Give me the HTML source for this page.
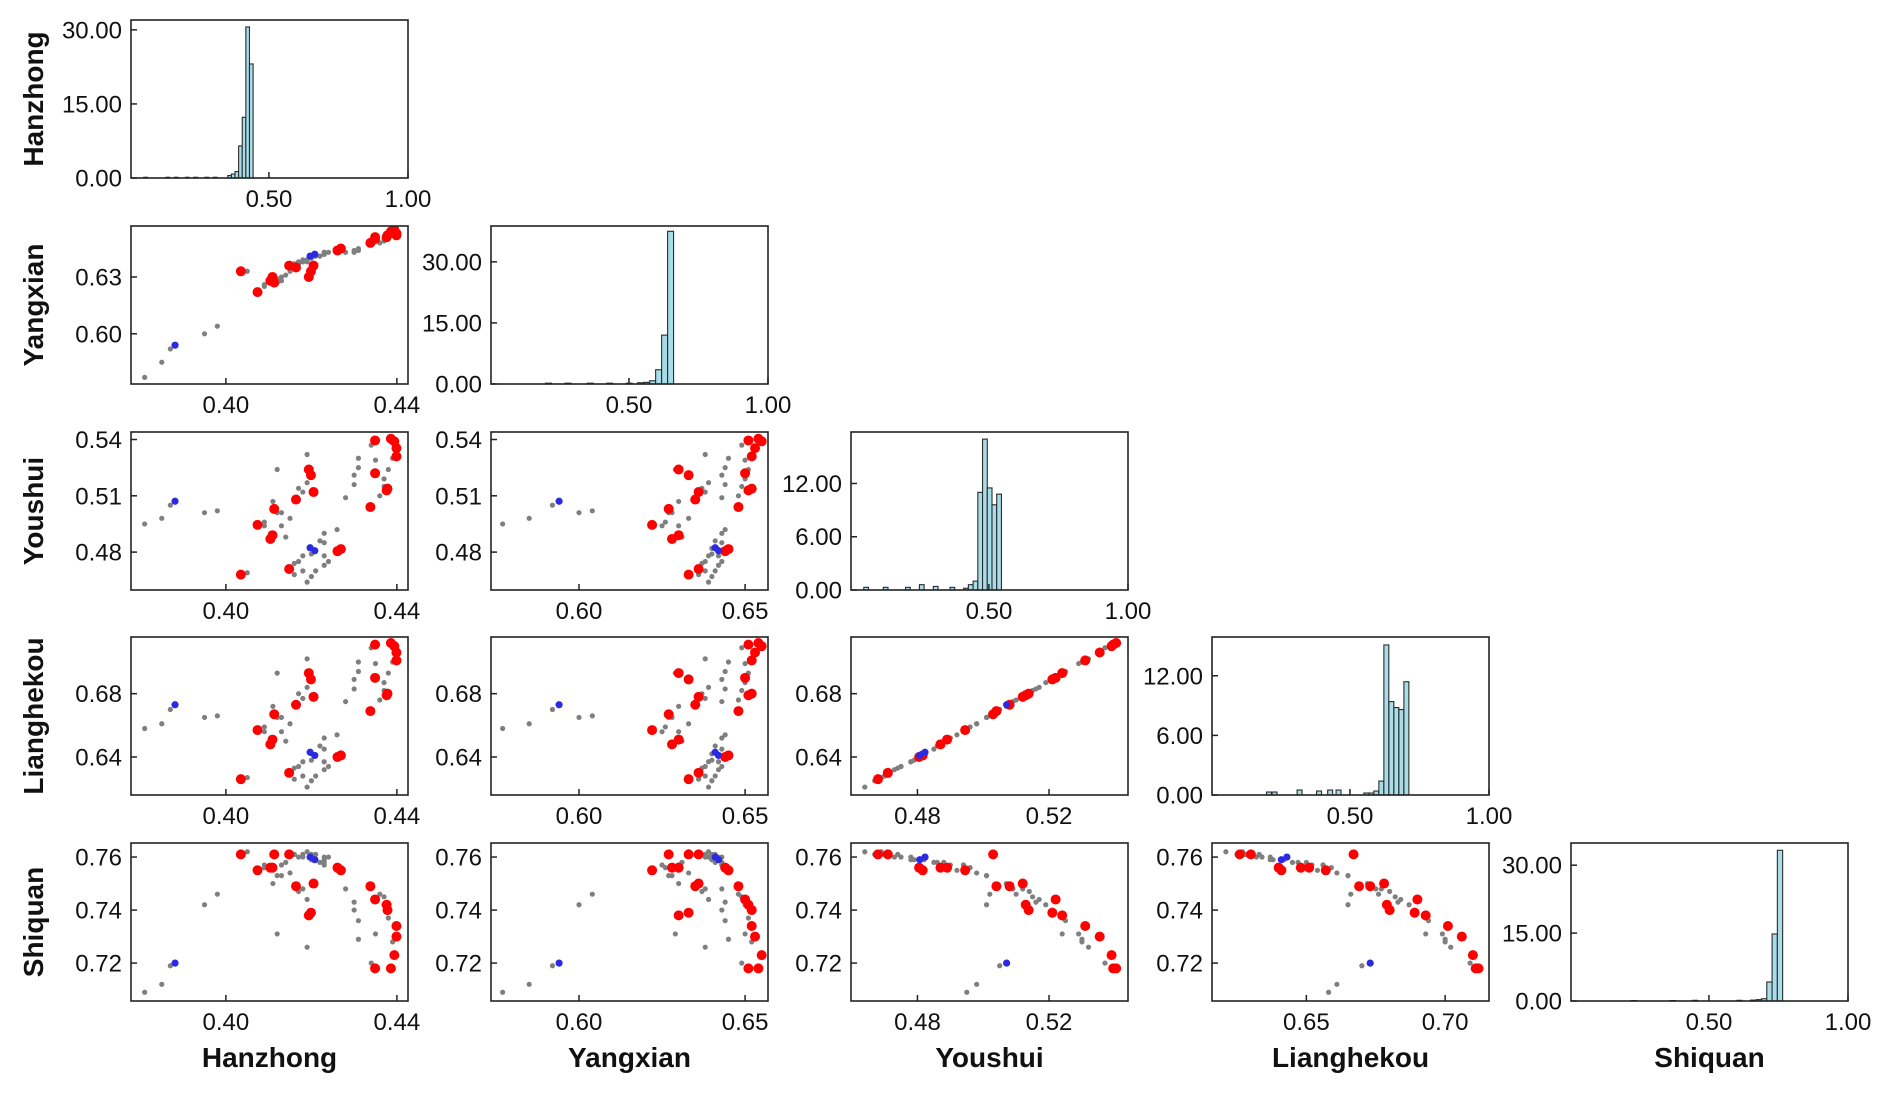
<!DOCTYPE html>
<html><head><meta charset="utf-8"><style>
html,body{margin:0;padding:0;background:#fff;}
svg{display:block;font-family:"Liberation Sans",Arial,sans-serif;}
</style></head><body>
<svg id="chart" width="1892" height="1096" viewBox="0 0 1892 1096" xmlns="http://www.w3.org/2000/svg"></svg>
<script>
// Variables
const varNames = ["Hanzhong","Yangxian","Youshui","Lianghekou","Shiquan"];
// Scatter data (shared across panels): one entry per sample
const hanzhong = [0.381,0.385,0.395,0.398,0.387,0.412,0.419,0.419,0.417,0.418,0.411,0.412,0.413,0.415,0.409,0.409,0.413,0.414,0.428,0.430,0.431,0.431,0.430,0.434,0.435,0.436,0.437,0.438,0.439,0.437,0.423,0.422,0.420,0.418,0.417,0.416,0.416,0.419,0.420,0.421,0.423,0.424,0.423,0.418,0.405,0.423,0.426,0.420,
0.4035,0.4074,0.4104,0.4109,0.4113,0.4164,0.4194,0.4199,0.4205,0.4148,0.4261,0.4269,0.4338,0.4349,0.4349,0.4378,0.4376,0.4386,0.4394,0.4399,0.4399,
0.3881,0.4197,0.4208];
const yangxian = [0.577,0.585,0.600,0.604,0.592,0.629,0.638,0.639,0.637,0.638,0.630,0.627,0.628,0.633,0.626,0.625,0.630,0.631,0.643,0.644,0.645,0.644,0.643,0.649,0.650,0.648,0.650,0.651,0.652,0.649,0.643,0.641,0.640,0.639,0.638,0.637,0.636,0.639,0.640,0.641,0.642,0.643,0.642,0.638,0.633,0.643,0.644,0.640,
0.633,0.622,0.628,0.630,0.627,0.635,0.630,0.633,0.636,0.636,0.644,0.645,0.648,0.651,0.650,0.652,0.651,0.654,0.655,0.653,0.652,
0.594,0.641,0.642];
const youshui = [0.495,0.498,0.501,0.502,0.505,0.524,0.532,0.517,0.514,0.512,0.507,0.501,0.501,0.498,0.496,0.494,0.494,0.488,0.509,0.516,0.530,0.525,0.521,0.537,0.529,0.510,0.519,0.524,0.530,0.515,0.490,0.486,0.482,0.478,0.475,0.474,0.468,0.464,0.467,0.470,0.473,0.475,0.478,0.470,0.469,0.485,0.492,0.479,
0.468,0.4945,0.487,0.489,0.503,0.508,0.524,0.521,0.512,0.471,0.4805,0.4816,0.504,0.5395,0.522,0.5138,0.5129,0.5404,0.539,0.5354,0.531,
0.5071,0.4823,0.4807];
const lianghekou = [0.658,0.661,0.665,0.666,0.670,0.693,0.702,0.684,0.680,0.677,0.672,0.665,0.665,0.661,0.659,0.656,0.656,0.650,0.675,0.683,0.700,0.694,0.689,0.709,0.699,0.676,0.687,0.693,0.700,0.682,0.652,0.647,0.642,0.637,0.634,0.633,0.626,0.621,0.625,0.628,0.632,0.634,0.637,0.628,0.627,0.645,0.654,0.638,
0.626,0.657,0.648,0.651,0.667,0.673,0.693,0.689,0.678,0.630,0.640,0.641,0.669,0.711,0.690,0.680,0.679,0.712,0.710,0.706,0.701,
0.673,0.643,0.641];
const shiquan = [0.709,0.712,0.742,0.746,0.719,0.731,0.726,0.744,0.747,0.748,0.750,0.753,0.753,0.754,0.756,0.757,0.757,0.758,0.748,0.743,0.729,0.736,0.740,0.720,0.731,0.746,0.742,0.737,0.728,0.745,0.757,0.758,0.759,0.760,0.760,0.761,0.761,0.762,0.761,0.761,0.760,0.760,0.759,0.761,0.762,0.758,0.755,0.759,
0.761,0.755,0.756,0.756,0.761,0.749,0.738,0.739,0.750,0.761,0.756,0.755,0.749,0.718,0.744,0.740,0.742,0.718,0.723,0.730,0.734,
0.720,0.760,0.759];
// group: 0 gray, 1 red, 2 blue
const groups = [0,0,0,0,0,0,0,0,0,0,0,0,0,0,0,0,0,0,0,0,0,0,0,0,0,0,0,0,0,0,0,0,0,0,0,0,0,0,0,0,0,0,0,0,0,0,0,0,
1,1,1,1,1,1,1,1,1,1,1,1,1,1,1,1,1,1,1,1,1,
2,2,2];
// Histogram data: bin starts and heights per variable
const histBinWidth = [0.013,0.0215,0.017,0.0178,0.019];
const histStarts0 = [0.05,0.13,0.16,0.20,0.23,0.27,0.30,0.352,0.365,0.378,0.391,0.404,0.417,0.430];
const histHeights0 = [0.15,0.15,0.15,0.15,0.15,0.15,0.15,0.5,0.8,1.3,6.5,12.3,30.6,23.1];
const histStarts1 = [0.20,0.27,0.35,0.42,0.49,0.531,0.553,0.5745,0.596,0.6175,0.639];
const histHeights1 = [0.2,0.2,0.2,0.2,0.2,0.3,0.4,0.8,3.5,12,37.5];
const histStarts2 = [0.05,0.12,0.20,0.25,0.30,0.36,0.409,0.426,0.443,0.460,0.477,0.494,0.511,0.528];
const histHeights2 = [0.3,0.3,0.3,0.6,0.4,0.3,0.2,0.6,1.0,11,17,11.5,9.6,10.8];
const histStarts3 = [0.20,0.22,0.31,0.38,0.42,0.45,0.55,0.568,0.586,0.604,0.622,0.640,0.658,0.676,0.694];
const histHeights3 = [0.3,0.3,0.5,0.4,0.5,0.5,0.2,0.2,0.4,1.4,15.1,9.4,8.8,8.6,11.4];
const histStarts4 = [0.22,0.36,0.44,0.60,0.65,0.67,0.689,0.708,0.727,0.746];
const histHeights4 = [0.1,0.1,0.15,0.15,0.2,0.3,0.5,4.2,14.8,33.3];
const histStarts = [histStarts0,histStarts1,histStarts2,histStarts3,histStarts4];
const histHeights = [histHeights0,histHeights1,histHeights2,histHeights3,histHeights4];
const histYMax = [32,38.8,17.8,15.9,34.9];
const histYTicks = [[0,15,30],[0,15,30],[0,6,12],[0,6,12],[0,15,30]];
const histXTicks = [0.5,1.0];
// Scatter axis domains & ticks
const varMin = [0.3778,0.5735,0.4598,0.6160,0.7057];
const varMax = [0.4426,0.6569,0.5440,0.7158,0.7653];
const xTicksScatter = [[0.40,0.44],[0.60,0.65],[0.48,0.52],[0.65,0.70]];
const yTicksScatter = [null,[0.60,0.63],[0.48,0.51,0.54],[0.64,0.68],[0.72,0.74,0.76]];

const data = [hanzhong,yangxian,youshui,lianghekou,shiquan];
const NS = "http://www.w3.org/2000/svg";
const svg = document.getElementById("chart");
const colLeft = [131,491,851,1212,1571];
const rowTop = [20,226,432,637,843];
const W = 277, H = 158;
function mk(tag, attrs, parent){
  const e = document.createElementNS(NS, tag);
  for (const k in attrs) e.setAttribute(k, attrs[k]);
  (parent||svg).appendChild(e);
  return e;
}
function fmt(v){ return v.toFixed(2); }

for (let r=0;r<5;r++){
  for (let c=0;c<=r;c++){
    const L = colLeft[c], T = rowTop[r];
    const g = mk("g",{});
    
    
    let xs, ys, xt, yt;
    if (r===c){
      const x0 = 0.004, x1 = 1.0, ym = histYMax[r];
      xs = v => L + (v-x0)/(x1-x0)*W;
      ys = v => T + H - v/ym*H;
      xt = histXTicks; yt = histYTicks[r];
      const bw = histBinWidth[r];
      for (let i=0;i<histStarts[r].length;i++){
        const s = histStarts[r][i], h = histHeights[r][i];
        const b = mk("rect",{x:xs(s), y:ys(h), width:xs(s+bw)-xs(s), height:ys(0)-ys(h), fill:"#a8dce9", stroke:"#2b2b2b","stroke-width":1.1},g);
        
        
      }
    } else {
      const dx = data[c], dy = data[r];
      xs = v => L + (v-varMin[c])/(varMax[c]-varMin[c])*W;
      ys = v => T + H - (v-varMin[r])/(varMax[r]-varMin[r])*H;
      xt = xTicksScatter[c]; yt = yTicksScatter[r];
      const cp = mk("clipPath",{id:"cp"+r+c},g);
      mk("rect",{x:L,y:T,width:W,height:H},cp);
      const pg = mk("g",{"clip-path":"url(#cp"+r+c+")"},g);
      for (const grp of [0,1,2]){
        for (let i=0;i<dx.length;i++){
          if (groups[i]!==grp) continue;
          const rad = grp===0?2.6:(grp===1?5:3.6);
          const fill = grp===0?"#7f7f7f":(grp===1?"#ff0000":"#2a2ae0");
          const p = mk("circle",{cx:xs(dx[i]), cy:ys(dy[i]), r:rad, fill:fill},pg);
          
          
        }
      }
    }
    const fr = mk("rect",{x:L,y:T,width:W,height:H,fill:"none",stroke:"#222","stroke-width":1.6},g);
    
    
    for (const v of xt){
      const x = xs(v);
      mk("line",{x1:x,x2:x,y1:T+H,y2:T+H-6,stroke:"#222","stroke-width":1.5},g);
      const t = mk("text",{x:x,y:T+H+29,"text-anchor":"middle","font-size":24,fill:"#111"},g);
      t.textContent = fmt(v);
      
      
    }
    for (const v of (yt||[])){
      const y = ys(v);
      mk("line",{x1:L,x2:L+6,y1:y,y2:y,stroke:"#222","stroke-width":1.5},g);
      const t = mk("text",{x:L-9,y:y+8.5,"text-anchor":"end","font-size":24,fill:"#111"},g);
      t.textContent = fmt(v);
      
      
    }
  }
}
for (let i=0;i<5;i++){
  const cy = rowTop[i]+H/2;
  const t = mk("text",{x:0,y:0,transform:"translate(43,"+cy+") rotate(-90)","text-anchor":"middle","font-size":28,"font-weight":"bold",fill:"#111"});
  t.textContent = varNames[i];
  
  
  const t2 = mk("text",{x:colLeft[i]+W/2,y:1067,"text-anchor":"middle","font-size":28,"font-weight":"bold",fill:"#111"});
  t2.textContent = varNames[i];
  
  
}
</script>
</body></html>
